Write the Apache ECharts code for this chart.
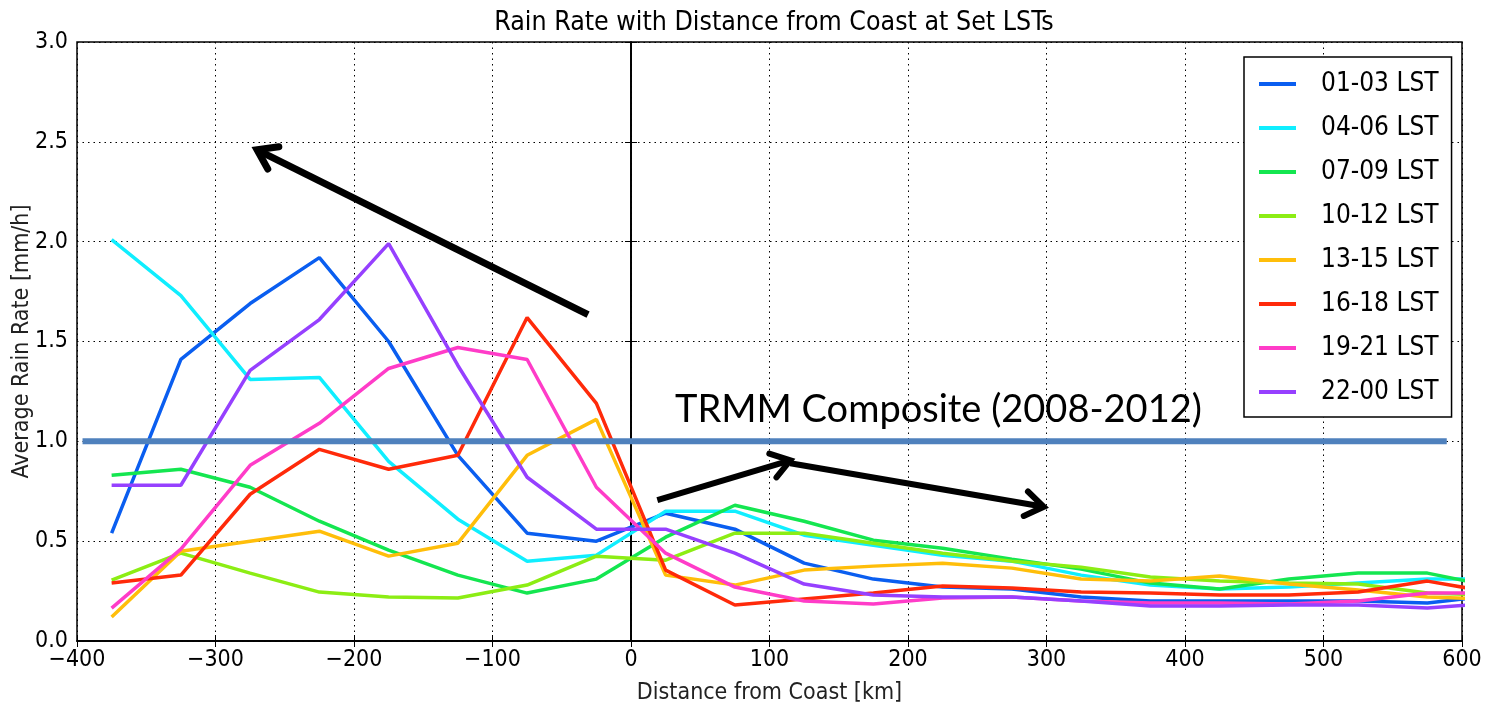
<!DOCTYPE html>
<html>
<head>
<meta charset="utf-8">
<script src="https://cdn.jsdelivr.net/npm/echarts@6/dist/echarts.min.js"></script>
<style>
html,body{margin:0;padding:0;background:#fff;}
#chart{width:1490px;height:710px;}
</style>
</head>
<body>
<div id="chart"></div>
<script>
// ---- data ----
const distances = [-375,-325,-275,-225,-175,-125,-75,-25,25,75,125,175,225,275,325,375,425,475,525,575,625];
const seriesNames = ['01-03 LST','04-06 LST','07-09 LST','10-12 LST','13-15 LST','16-18 LST','19-21 LST','22-00 LST'];
const lst0103 = [0.54,1.41,1.69,1.92,1.50,0.93,0.54,0.50,0.64,0.56,0.39,0.31,0.27,0.26,0.22,0.20,0.20,0.20,0.20,0.19,0.23];
const lst0406 = [2.01,1.73,1.31,1.32,0.90,0.61,0.40,0.43,0.65,0.65,0.53,0.48,0.43,0.40,0.33,0.28,0.26,0.27,0.29,0.31,0.31];
const lst0709 = [0.83,0.86,0.77,0.60,0.455,0.33,0.24,0.31,0.52,0.68,0.60,0.505,0.465,0.41,0.36,0.29,0.26,0.31,0.34,0.34,0.27];
const lst1012 = [0.305,0.44,0.34,0.245,0.22,0.215,0.28,0.425,0.405,0.54,0.54,0.49,0.44,0.40,0.37,0.32,0.30,0.29,0.285,0.24,0.23];
const lst1315 = [0.12,0.45,0.50,0.55,0.425,0.49,0.93,1.11,0.33,0.28,0.355,0.375,0.39,0.365,0.31,0.30,0.325,0.285,0.255,0.22,0.21];
const lst1618 = [0.29,0.33,0.735,0.96,0.86,0.93,1.62,1.19,0.355,0.18,0.21,0.24,0.275,0.265,0.245,0.24,0.23,0.23,0.245,0.30,0.24];
const lst1921 = [0.165,0.46,0.88,1.09,1.365,1.47,1.41,0.77,0.44,0.27,0.20,0.185,0.215,0.22,0.20,0.19,0.19,0.185,0.20,0.24,0.24];
const lst2200 = [0.78,0.78,1.355,1.61,1.99,1.38,0.82,0.56,0.56,0.44,0.285,0.23,0.22,0.22,0.20,0.175,0.175,0.18,0.18,0.165,0.19];
const seriesValues = [lst0103,lst0406,lst0709,lst1012,lst1315,lst1618,lst1921,lst2200];
const seriesColors = ['#0a5ef0','#10eeff','#14e650','#8ced14','#ffbe0a','#ff2a0a','#ff3cc8','#9640ff'];
const xTicks = {min:-400, max:600, step:100};
const yTicks = {min:0, max:3, step:0.5};
// annotations (data coordinates)
const trmmLevel = 1.0;
const trmmExtent = [-396, 589];
const trmmLabel = {x: 222, y: 1.16, text: 'TRMM Composite (2008-2012)'};
const arrows = [
  [-31, 1.635, -270, 2.46],
  [19, 0.705, 115, 0.905],
  [115, 0.89, 298, 0.672]
];

const FONT = "'Liberation Sans Narrow','DejaVu Sans Condensed',sans-serif";

const chart = echarts.init(document.getElementById('chart'), null, {renderer:'canvas'});

const lineSeries = seriesNames.map((name, i) => ({
  name: name,
  type: 'line',
  data: distances.map((d, j) => [d, seriesValues[i][j]]),
  showSymbol: false,
  symbol: 'none',
  clip: true,
  lineStyle: {width: 3.5, color: seriesColors[i]},
  itemStyle: {color: seriesColors[i]},
  z: 3,
  animation: false,
  markLine: i === 0 ? {
    silent: true, symbol: ['none','none'], animation: false,
    label: {show: false},
    lineStyle: {color: '#000', type: 'solid', width: 1.5},
    data: [{xAxis: 0}],
    z: 2
  } : undefined
}));

const trmmSeries = {
  name: 'TRMM',
  type: 'line',
  data: [[trmmExtent[0], trmmLevel],[trmmExtent[1], trmmLevel]],
  symbol: 'none',
  lineStyle: {width: 6, color: '#4f81bd'},
  z: 5,
  animation: false,
  silent: true
};

const arrowSeries = {
  type: 'custom',
  data: arrows,
  z: 6,
  silent: true,
  animation: false,
  encode: {x: [0,2], y: [1,3]},
  renderItem: function(params, api) {
    const p1 = api.coord([api.value(0), api.value(1)]);
    const p2 = api.coord([api.value(2), api.value(3)]);
    const ang = Math.atan2(p2[1]-p1[1], p2[0]-p1[0]);
    const L = 22, a = 0.6;
    const h1 = [p2[0] - L*Math.cos(ang - a), p2[1] - L*Math.sin(ang - a)];
    const h2 = [p2[0] - L*Math.cos(ang + a), p2[1] - L*Math.sin(ang + a)];
    const w = params.dataIndex === 0 ? 7 : 6;
    return {
      type: 'group',
      children: [
        {type: 'line', shape: {x1: p1[0], y1: p1[1], x2: p2[0], y2: p2[1]}, style: {stroke: '#000', lineWidth: w, lineCap: 'butt'}},
        {type: 'polyline', shape: {points: [h1, p2, h2]}, style: {stroke: '#000', fill: null, lineWidth: w, lineCap: 'round', lineJoin: 'miter'}}
      ]
    };
  }
};

const labelSeries = {
  type: 'custom',
  data: [[trmmLabel.x, trmmLabel.y]],
  z: 6,
  silent: true,
  animation: false,
  renderItem: function(params, api) {
    const p = api.coord([api.value(0), api.value(1)]);
    return {
      type: 'text',
      x: p[0], y: p[1],
      style: {text: trmmLabel.text, fill: '#000', font: "38px Lato, 'Open Sans', sans-serif", align: 'center', verticalAlign: 'middle'}
    };
  }
};

const axisCommon = {
  type: 'value',
  axisLine: {show: true, lineStyle: {color: '#000', width: 1.5}},
  axisTick: {show: true, inside: true, length: 6, lineStyle: {color: '#000', width: 1}},
};

const option = {
  backgroundColor: '#fff',
  animation: false,
  title: {
    text: 'Rain Rate with Distance from Coast at Set LSTs',
    left: 769, top: 5, textAlign: 'center',
    textStyle: {fontFamily: FONT, fontSize: 26.5, fontWeight: 'normal', color: '#000'}
  },
  legend: {
    data: seriesNames,
    orient: 'vertical',
    left: 1244, top: 57,
    backgroundColor: '#fff',
    borderColor: '#000', borderWidth: 1.5, borderRadius: 0,
    padding: [12, 13, 10, 15],
    itemGap: 14,
    itemWidth: 37, itemHeight: 4,
    icon: 'rect',
    textStyle: {fontFamily: FONT, fontSize: 26, color: '#000', lineHeight: 30, padding: [0,0,0,20]},
    z: 10
  },
  grid: {left: 77, right: 28, top: 42, bottom: 69, containLabel: false, outerBoundsMode: 'none',
    show: true, borderColor: '#000', borderWidth: 1.5, backgroundColor: '#fff'},
  xAxis: [
    Object.assign({}, axisCommon, {
      min: xTicks.min, max: xTicks.max, interval: xTicks.step,
      position: 'bottom',
      name: 'Distance from Coast [km]', nameLocation: 'middle', nameGap: 41, nameMoveOverlap: false,
      nameTextStyle: {fontFamily: FONT, fontSize: 23, color: '#222'},
      axisLabel: {fontFamily: FONT, fontSize: 23, color: '#000', margin: 8,
        formatter: v => v < 0 ? '\u2212' + Math.abs(v) : String(v)},
      splitLine: {show: true, lineStyle: {color: '#000', type: [1.5, 4], width: 1}}
    }),
    Object.assign({}, axisCommon, {
      min: xTicks.min, max: xTicks.max, interval: xTicks.step,
      position: 'top', axisLabel: {show: false}, splitLine: {show: false}
    })
  ],
  yAxis: [
    Object.assign({}, axisCommon, {
      min: yTicks.min, max: yTicks.max, interval: yTicks.step,
      position: 'left',
      name: 'Average Rain Rate [mm/h]', nameLocation: 'middle', nameGap: 43, nameMoveOverlap: false,
      nameTextStyle: {fontFamily: FONT, fontSize: 23, color: '#222'},
      axisLabel: {fontFamily: FONT, fontSize: 23, color: '#000', margin: 9, formatter: v => v.toFixed(1)},
      splitLine: {show: true, lineStyle: {color: '#000', type: [1.5, 4], width: 1}}
    }),
    Object.assign({}, axisCommon, {
      min: yTicks.min, max: yTicks.max, interval: yTicks.step,
      position: 'right', axisLabel: {show: false}, splitLine: {show: false}
    })
  ],
  series: lineSeries.concat([trmmSeries, arrowSeries, labelSeries])
};

chart.setOption(option);
</script>
</body>
</html>
